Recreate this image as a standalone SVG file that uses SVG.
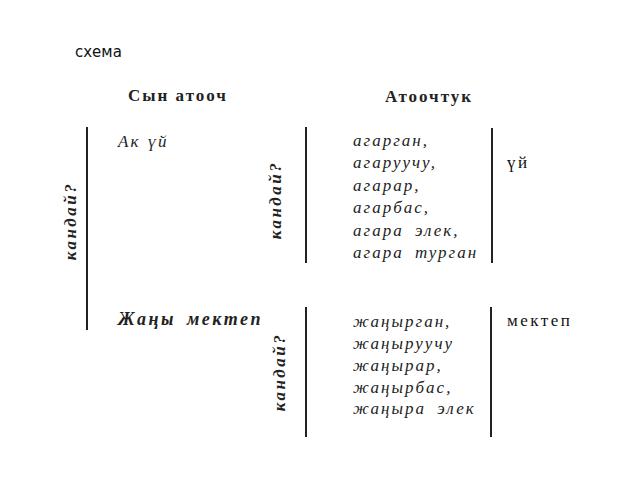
<svg xmlns="http://www.w3.org/2000/svg" width="640" height="480" viewBox="0 0 640 480">
<style>
.cap{font-family:"DejaVu Sans",sans-serif;font-size:15px;fill:#111}
.hd{font-family:"Liberation Serif",serif;font-weight:bold;font-size:17px;letter-spacing:2px;fill:#222}
.it{font-family:"Liberation Serif",serif;font-style:italic;font-size:17px;letter-spacing:2px;word-spacing:5px;fill:#222}
.bi{font-family:"Liberation Serif",serif;font-style:italic;font-weight:bold;font-size:18px;letter-spacing:2.5px;word-spacing:4px;fill:#222}
.vt{font-family:"Liberation Serif",serif;font-style:italic;font-weight:bold;font-size:17px;letter-spacing:2.5px;fill:#222}
.up{font-family:"Liberation Serif",serif;font-size:17px;letter-spacing:2.5px;fill:#111}
.rule{stroke:#222;stroke-width:2;fill:none}
</style>
<rect width="640" height="480" fill="#fff"/>
<text class="cap" x="75" y="57">схема</text>
<g id="rules">
<line class="rule" x1="87" y1="127" x2="87" y2="330"/>
<line class="rule" x1="306" y1="127" x2="306" y2="263"/>
<line class="rule" x1="492" y1="128" x2="492" y2="263"/>
<line class="rule" x1="306" y1="307" x2="306" y2="437"/>
<line class="rule" x1="491" y1="307" x2="491" y2="437"/>
</g>
<g id="headers">
<text class="hd" x="128" y="101">Сын атооч</text>
<text class="hd" x="385" y="102">Атоочтук</text>
</g>
<g id="q-left">
<text class="vt" transform="translate(76,221) rotate(-90)" text-anchor="middle">кандай?</text>
</g>
<g id="noun-1">
<text class="it" x="118" y="147" style="word-spacing:1px">Ак үй</text>
</g>
<g id="q-1">
<text class="vt" transform="translate(281,200) rotate(-90)" text-anchor="middle">кандай?</text>
</g>
<g id="forms-1">
<text class="it" x="353" y="146">агарган,</text>
<text class="it" x="353" y="168">агаруучу,</text>
<text class="it" x="353" y="191">агарар,</text>
<text class="it" x="353" y="213">агарбас,</text>
<text class="it" x="353" y="236">агара элек,</text>
<text class="it" x="353" y="258">агара турган</text>
</g>
<g id="head-1">
<text class="up" x="507" y="168">үй</text>
</g>
<g id="noun-2">
<text class="bi" x="118" y="325">Жаңы мектеп</text>
</g>
<g id="q-2">
<text class="vt" transform="translate(285,372) rotate(-90)" text-anchor="middle">кандай?</text>
</g>
<g id="forms-2">
<text class="it" x="353" y="327">жаңырган,</text>
<text class="it" x="353" y="349">жаңыруучу</text>
<text class="it" x="353" y="371">жаңырар,</text>
<text class="it" x="353" y="393">жаңырбас,</text>
<text class="it" x="353" y="414">жаңыра элек</text>
</g>
<g id="head-2">
<text class="up" x="507" y="326">мектеп</text>
</g>
</svg>
